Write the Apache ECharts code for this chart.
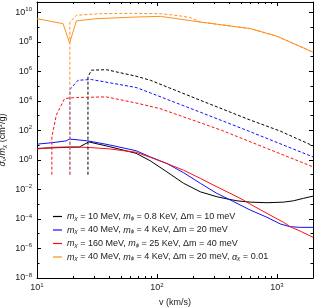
<!DOCTYPE html>
<html><head><meta charset="utf-8">
<script src="https://cdn.jsdelivr.net/npm/echarts@6/dist/echarts.min.js"></script>
<style>html,body{margin:0;padding:0;background:#fff}#c{width:316px;height:307px}</style>
</head><body><div id="c"></div>
<script>
// ---- data (v in km/s, sigma/m in cm^2/g) ----
const vBlackSolid = [10, 17.5, 22.5, 27, 40, 67, 88, 121, 167, 230, 316, 383, 464, 600, 826, 1135, 1374, 1667, 2000];
const sBlackSolid = [6.0, 7.1, 7.4, 16.6, 8.0, 2.8, 0.87, 0.155, 0.026, 6.9e-3, 3.2e-3, 2.3e-3, 1.7e-3, 1.38e-3, 1.26e-3, 1.38e-3, 1.7e-3, 2.5e-3, 3.5e-3];
const vBlueSolid = [10, 13.2, 17.5, 18.7, 26.6, 40, 67, 88, 121, 167, 230, 316, 435, 600, 826, 1066, 1290, 1564, 2000];
const sBlueSolid = [11.7, 14.5, 19.5, 26, 19.5, 10.5, 4.2, 1.6, 0.57, 0.135, 0.026, 5.4e-3, 1.5e-3, 4.0e-4, 1.3e-4, 4.6e-5, 3.0e-5, 2.7e-5, 2.7e-5];
const vRedSolid = [10, 14, 20, 27, 40, 67, 88, 121, 167, 230, 316, 435, 527, 600, 826, 1135, 1290, 1564, 2000];
const sRedSolid = [5.5, 7.2, 7.6, 7.0, 5.6, 3.3, 1.5, 0.57, 0.2, 0.056, 0.015, 4.2e-3, 1.9e-3, 1.0e-3, 2.4e-4, 5.9e-5, 3.0e-5, 1.5e-5, 5.8e-6];
const vOrangeSolid = [10, 16.5, 18.7, 21.3, 31, 67, 107, 150, 230, 600, 1000, 2000];
const sOrangeSolid = [3.7e9, 1.7e9, 8.3e7, 2.6e9, 3.7e9, 4.8e9, 5.3e9, 3.6e9, 2.2e9, 7.9e8, 2.4e8, 2.0e7];

const vBlackDash = [26.6, 26.6, 28.4, 37.8, 67, 88, 230, 600, 1066, 2000];
const sBlackDash = [0.1, 4.2e5, 1.2e6, 1.3e6, 4.7e5, 2.5e5, 1.1e4, 5.0e2, 90, 9];
const vBlueDash = [18.8, 18.8, 22, 28.4, 67, 88, 230, 562, 2000];
const sBlueDash = [0.1, 5.9e4, 2.5e5, 2.8e5, 8.1e4, 3.5e4, 1.7e3, 1.0e2, 1.6];
const vRedDash = [13.3, 13.3, 14.5, 17, 21.3, 37.8, 67, 106, 230, 347, 2000];
const sRedDash = [0.1, 36, 1.1e3, 1.45e4, 1.7e4, 1.86e4, 7.2e3, 3.0e3, 3.3e2, 1.0e2, 0.34];
const vOrangeDash = [18.8, 18.8, 21.3, 33.7, 60, 107, 150, 190, 230, 600, 1000, 2000];
const sOrangeDash = [0.1, 2.2e9, 6.3e9, 8.1e9, 8.5e9, 8.1e9, 6.0e9, 4.4e9, 2.2e9, 7.9e8, 2.4e8, 2.0e7];

const xTickLabels = [10, 100, 1000];
const yTickLabels = [1e-8, 1e-6, 1e-4, 1e-2, 1, 1e2, 1e4, 1e6, 1e8, 1e10];
const xRange = [10, 2000];
const yRange = [1e-8, 5e10];
const legendNames = ['black', 'blue', 'red', 'orange'];
const legendLabels = [
  '{i|m}{sub|χ} = 10 MeV, {i|m}{sub|ϕ} = 0.8 KeV, Δm = 10 meV',
  '{i|m}{sub|χ} = 40 MeV, {i|m}{sub|ϕ} = 4 KeV, Δm = 20 meV',
  '{i|m}{sub|χ} = 160 MeV, {i|m}{sub|ϕ} = 25 KeV, Δm = 40 meV',
  '{i|m}{sub|χ} = 40 MeV, {i|m}{sub|ϕ} = 4 KeV, Δm = 20 meV, {i|α}{sub|χ} = 0.01'
];
const colors = {black: '#000000', blue: '#1010ff', red: '#ff1010', orange: '#ff9020'};

// ---- build ----
const L = Math.log10;
const FF = '"Liberation Sans", Arial, sans-serif';
const TXT = '#1a1a1a';
function pts(vs, ss) { return vs.map((v, i) => [L(v), L(ss[i])]); }
function supLabel(val) {
  const e = Math.round(val);
  const s = e < 0 ? '−' + (-e) : '' + e;
  return '{b|10}{s|' + s + '}';
}
const labelRich = {
  b: {fontSize: 9, fontFamily: FF, color: TXT},
  s: {fontSize: 6, fontFamily: FF, color: TXT, padding: [0, 0, 6, 0]}
};
const xMajor = xTickLabels.map(L);
const xMinor = [];
[10, 100, 1000].forEach(d => { for (let k = 2; k <= 9; k++) { const v = k * d; if (v < xRange[1]) xMinor.push(L(v)); } });
const yMajor = yTickLabels.map(L);
const yMinor = [];
for (let e = -7; e <= 9; e += 2) yMinor.push(e);

const xmin = L(xRange[0]), xmax = L(xRange[1]);
const ymin = L(yRange[0]), ymax = L(yRange[1]);

function xAx(pos, custom, len, labels, line) {
  const a = {type: 'value', position: pos, min: xmin, max: xmax, gridIndex: 0,
    axisLine: {show: line, onZero: false, lineStyle: {color: '#000', width: 1}},
    axisTick: {show: true, inside: true, length: len, customValues: custom, lineStyle: {color: '#000', width: 1}},
    axisLabel: {show: labels}, splitLine: {show: false}};
  if (labels) {
    a.axisLabel = {show: true, customValues: xMajor, formatter: supLabel, rich: labelRich, margin: 4};
    a.name = 'v (km/s)'; a.nameLocation = 'middle'; a.nameGap = 20; a.nameMoveOverlap = false;
    a.nameTextStyle = {fontSize: 9, fontFamily: FF, color: TXT};
  }
  return a;
}
function yAx(pos, custom, len, labels, line) {
  const a = {type: 'value', position: pos, min: ymin, max: ymax, gridIndex: 0,
    axisLine: {show: line, onZero: false, lineStyle: {color: '#000', width: 1}},
    axisTick: {show: true, inside: true, length: len, customValues: custom, lineStyle: {color: '#000', width: 1}},
    axisLabel: {show: labels}, splitLine: {show: false}};
  if (labels) {
    a.axisLabel = {show: true, customValues: yMajor, formatter: supLabel, rich: labelRich, margin: 5};
    a.name = '{i|σ}{sub|ν}/{i|m}{sub|χ} (cm{sup|2}/g)'; a.nameLocation = 'middle'; a.nameGap = 29; a.nameRotate = 90;
    a.nameMoveOverlap = false;
    a.nameTextStyle = {fontSize: 9, fontFamily: FF, color: TXT, rich: {
      i: {fontStyle: 'italic', fontSize: 9, fontFamily: FF, color: TXT},
      sub: {fontStyle: 'italic', fontSize: 6, fontFamily: FF, color: TXT, padding: [3, 0, 0, 0]},
      sup: {fontSize: 6, fontFamily: FF, color: TXT, padding: [0, 0, 5, 0]}
    }};
  }
  return a;
}

function line(name, vs, ss, color, dashed) {
  return {type: 'line', name: name, data: pts(vs, ss), xAxisIndex: 0, yAxisIndex: 0,
    symbol: 'none', smooth: false, silent: true, animation: false, z: dashed ? 3 : 2,
    lineStyle: {color: color, width: 1, type: dashed ? [3, 2] : 'solid'},
    itemStyle: {color: color}};
}

const option = {
  animation: false,
  backgroundColor: '#fff',
  grid: {left: 37, right: 3, top: 2, bottom: 29, containLabel: false, outerBoundsMode: 'none'},
  xAxis: [
    xAx('bottom', xMajor, 4, true, true),
    xAx('bottom', xMinor, 2, false, false),
    xAx('top', xMajor, 4, false, true),
    xAx('top', xMinor, 2, false, false)
  ],
  yAxis: [
    yAx('left', yMajor, 4, true, true),
    yAx('left', yMinor, 2.5, false, false),
    yAx('right', yMajor, 4, false, true),
    yAx('right', yMinor, 2.5, false, false)
  ],
  legend: {
    left: 48, top: 207, orient: 'vertical', itemWidth: 9, itemHeight: 1.2, itemGap: 4.5, icon: 'rect',
    data: legendNames, selectedMode: false,
    formatter: n => legendLabels[legendNames.indexOf(n)],
    textStyle: {fontSize: 9, fontFamily: FF, color: TXT, rich: {
      i: {fontStyle: 'italic', fontSize: 9, fontFamily: FF, color: TXT},
      sub: {fontStyle: 'italic', fontSize: 6, fontFamily: FF, color: TXT, padding: [3, 0, 0, 0]}
    }}
  },
  series: [
    line('black', vBlackSolid, sBlackSolid, colors.black, false),
    line('blue', vBlueSolid, sBlueSolid, colors.blue, false),
    line('red', vRedSolid, sRedSolid, colors.red, false),
    line('orange', vOrangeSolid, sOrangeSolid, colors.orange, false),
    line('blackD', vBlackDash, sBlackDash, colors.black, true),
    line('blueD', vBlueDash, sBlueDash, colors.blue, true),
    line('redD', vRedDash, sRedDash, colors.red, true),
    line('orangeD', vOrangeDash, sOrangeDash, colors.orange, true)
  ]
};
const chart = echarts.init(document.getElementById('c'), null, {renderer: 'canvas'});
chart.setOption(option);
</script>
</body></html>
